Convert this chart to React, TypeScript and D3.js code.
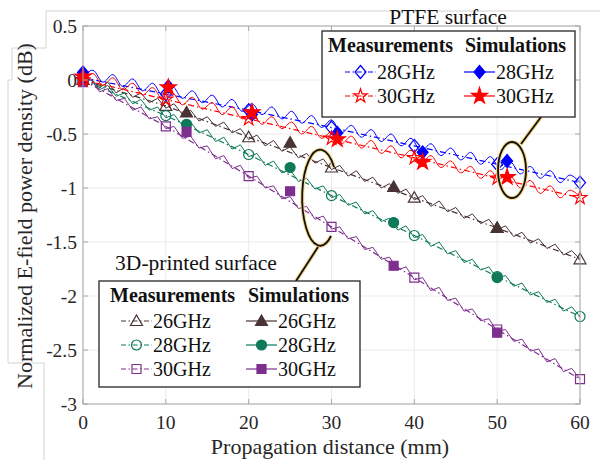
import React from 'react';
import * as d3 from 'd3';

// measurement points (open markers, dash-dot lines)
const distMm = [0, 10, 20, 30, 40, 50, 60];
const measPtfe28 = [0.02, -0.13, -0.28, -0.44, -0.61, -0.78, -0.95];
const measPtfe30 = [0.0, -0.18, -0.36, -0.54, -0.72, -0.91, -1.09];
const meas3d26 = [0, -0.24, -0.53, -0.81, -1.09, -1.37, -1.66];
const meas3d28 = [0, -0.33, -0.69, -1.07, -1.44, -1.82, -2.19];
const meas3d30 = [0, -0.43, -0.89, -1.36, -1.83, -2.31, -2.77];

// simulation markers (filled)
const simPtfeX = [0, 10.3, 20.4, 30.7, 41, 51.2];
const simPtfe28 = [0.07, -0.06, -0.32, -0.49, -0.67, -0.75];
const simPtfe30 = [0.03, -0.07, -0.3, -0.55, -0.76, -0.9];
const sim3dX = [0, 12.5, 25, 37.5, 50];
const sim3d26 = [0, -0.3, -0.58, -0.99, -1.37];
const sim3d28 = [0, -0.41, -0.81, -1.32, -1.83];
const sim3d30 = [-0.02, -0.48, -1.03, -1.72, -2.34];

// simulated rippled curves
const waveXPtfe = [0, 1.2, 2.4, 3.6, 4.8, 6, 7.2, 8.4, 9.6, 10.8, 12, 13.2, 14.4, 15.6, 16.8, 18, 19.2, 20.4, 21.6, 22.8, 24, 25.2, 26.4, 27.6, 28.8, 30, 31.2, 32.4, 33.6, 34.8, 36, 37.2, 38.4, 39.6, 40.8, 42, 43.2, 44.4, 45.6, 46.8, 48, 49.2, 50.4, 51.6, 52.8, 54, 55.2, 56.4, 57.6, 58.8, 60];
const wavePtfe28 = [0.04, 0.09, -0.02, 0.05, -0.06, 0.01, -0.1, -0.03, -0.14, -0.06, -0.17, -0.1, -0.21, -0.14, -0.25, -0.18, -0.29, -0.22, -0.32, -0.25, -0.36, -0.29, -0.4, -0.33, -0.44, -0.37, -0.49, -0.42, -0.53, -0.46, -0.57, -0.5, -0.61, -0.54, -0.66, -0.59, -0.7, -0.63, -0.74, -0.67, -0.78, -0.71, -0.83, -0.76, -0.87, -0.8, -0.91, -0.84, -0.95, -0.88, -0.95];
const wavePtfe30 = [0.01, 0.06, -0.05, 0.02, -0.09, -0.03, -0.14, -0.07, -0.18, -0.12, -0.23, -0.16, -0.27, -0.21, -0.32, -0.25, -0.36, -0.3, -0.41, -0.34, -0.45, -0.39, -0.5, -0.43, -0.54, -0.48, -0.59, -0.52, -0.63, -0.56, -0.68, -0.61, -0.72, -0.65, -0.77, -0.7, -0.81, -0.75, -0.86, -0.8, -0.91, -0.84, -0.96, -0.89, -1.0, -0.93, -1.05, -0.98, -1.09, -1.02, -1.08];
const waveX3d = [0, 1, 2, 3, 4, 5, 6, 7, 8, 9, 10, 11, 12, 13, 14, 15, 16, 17, 18, 19, 20, 21, 22, 23, 24, 25, 26, 27, 28, 29, 30, 31, 32, 33, 34, 35, 36, 37, 38, 39, 40, 41, 42, 43, 44, 45, 46, 47, 48, 49, 50, 51, 52, 53, 54, 55, 56, 57, 58, 59, 60];
const wave3d26 = [0, 0.01, -0.07, -0.02, -0.12, -0.07, -0.16, -0.12, -0.21, -0.17,
  -0.26, -0.22, -0.32, -0.28, -0.38, -0.34, -0.43, -0.39, -0.49, -0.45,
  -0.55, -0.51, -0.61, -0.56, -0.66, -0.62, -0.72, -0.68, -0.77, -0.73,
  -0.83, -0.79, -0.89, -0.84, -0.94, -0.9, -1.0, -0.96, -1.05, -1.01,
  -1.11, -1.07, -1.17, -1.12, -1.22, -1.18, -1.28, -1.24, -1.33, -1.29,
  -1.39, -1.35, -1.45, -1.41, -1.51, -1.47, -1.56, -1.52, -1.62, -1.58, -1.66];
const wave3d28 = [0, 0.0, -0.09, -0.05, -0.15, -0.12, -0.22, -0.18, -0.28, -0.25,
  -0.35, -0.32, -0.42, -0.39, -0.49, -0.46, -0.57, -0.53, -0.64, -0.6,
  -0.71, -0.68, -0.79, -0.75, -0.86, -0.83, -0.94, -0.91, -1.01, -0.98,
  -1.09, -1.06, -1.16, -1.13, -1.24, -1.21, -1.31, -1.28, -1.39, -1.35,
  -1.46, -1.43, -1.54, -1.5, -1.61, -1.58, -1.69, -1.66, -1.76, -1.73,
  -1.84, -1.81, -1.91, -1.88, -1.99, -1.96, -2.06, -2.03, -2.14, -2.1, -2.19];
const wave3d30 = [0, 0.0, -0.11, -0.08, -0.19, -0.17, -0.28, -0.25, -0.36, -0.34,
  -0.45, -0.43, -0.54, -0.52, -0.63, -0.61, -0.73, -0.7, -0.82, -0.79,
  -0.91, -0.89, -1.0, -0.98, -1.1, -1.08, -1.19, -1.17, -1.29, -1.26,
  -1.38, -1.36, -1.47, -1.45, -1.57, -1.55, -1.66, -1.64, -1.76, -1.73,
  -1.85, -1.83, -1.95, -1.92, -2.04, -2.02, -2.14, -2.12, -2.23, -2.21,
  -2.33, -2.31, -2.42, -2.4, -2.51, -2.49, -2.61, -2.58, -2.7, -2.67, -2.77];

const xTicks = [0, 10, 20, 30, 40, 50, 60];
const yTicks = [0.5, 0, -0.5, -1, -1.5, -2, -2.5, -3];
const freqPtfe = ['28GHz', '30GHz'];
const freq3d = ['26GHz', '28GHz', '30GHz'];

const FONT = '"Liberation Serif", "Times New Roman", serif';
const BLUE = '#0000ff';
const RED = '#ff0000';
const BROWN = '#4a3334';
const GREEN = '#0e7a5a';
const PURPLE = '#7e2f8e';

const x = d3.scaleLinear().domain([0, 60]).range([83, 580]);
const y = d3.scaleLinear().domain([-3, 0.5]).range([404, 26]);

const starOpen = d3.symbol(d3.symbolStar, 58)();
const starFilled = d3.symbol(d3.symbolStar, 80)();

// marker drawing
const Marker = ({ kind, cx, cy, color, filled }) => {
  const fill = filled ? color : 'none';
  const common = { fill, stroke: color, strokeWidth: 1.2, transform: `translate(${cx},${cy})` };
  if (kind === 'circle') return <circle cx={cx} cy={cy} r={5} fill={fill} stroke={color} strokeWidth={1.2} />;
  if (kind === 'square') return <path d="M-4.5,-4.5h9v9h-9Z" {...common} />;
  if (kind === 'triangle') return <path d="M0,-6L6,4.5L-6,4.5Z" {...common} />;
  if (kind === 'diamond') return <path d="M0,-6.5L5.5,0L0,6.5L-5.5,0Z" {...common} />;
  return <path d={filled ? starFilled : starOpen} {...common} />;
};

const series = [
  { color: BROWN, marker: 'triangle', waveX: waveX3d, wave: wave3d26, meas: meas3d26, simX: sim3dX, sim: sim3d26, smooth: false },
  { color: GREEN, marker: 'circle', waveX: waveX3d, wave: wave3d28, meas: meas3d28, simX: sim3dX, sim: sim3d28, smooth: false },
  { color: PURPLE, marker: 'square', waveX: waveX3d, wave: wave3d30, meas: meas3d30, simX: sim3dX, sim: sim3d30, smooth: false },
  { color: BLUE, marker: 'diamond', waveX: waveXPtfe, wave: wavePtfe28, meas: measPtfe28, simX: simPtfeX, sim: simPtfe28, smooth: true },
  { color: RED, marker: 'star', waveX: waveXPtfe, wave: wavePtfe30, meas: measPtfe30, simX: simPtfeX, sim: simPtfe30, smooth: true },
];

const LegendRow = ({ lx, ly, color, marker, dashed, label }) => (
  <g>
    <line x1={lx} x2={lx + 31} y1={ly} y2={ly} stroke={color} strokeWidth={1.2}
      strokeDasharray={dashed ? '5,2.5,1.5,2.5' : undefined} />
    <Marker kind={marker} cx={lx + 15.5} cy={ly} color={color} filled={!dashed} />
    <text x={lx + 32} y={ly + 7} fontSize={20} fill="#111">{label}</text>
  </g>
);

export default function App() {
  const lineWave = (smooth) => d3.line().x(d => x(d[0])).y(d => y(d[1]))
    .curve(smooth ? d3.curveCatmullRom.alpha(0.5) : d3.curveLinear);
  const lineMeas = d3.line().x(d => x(d[0])).y(d => y(d[1]));

  return (
    <svg width={600} height={460} style={{ position: 'absolute', left: 0, top: 0, background: '#fff' }}
      fontFamily={FONT}>
      {/* faint frame left over from the figure export */}
      <path d="M600,11H46V48H12V80H8V363H44V460" fill="none" stroke="#d4d4d4" strokeWidth={1} />

      {/* grid */}
      {xTicks.map(t => (
        <line key={'gx' + t} x1={x(t)} x2={x(t)} y1={y(0.5)} y2={y(-3)} stroke="#ebebeb" />
      ))}
      {yTicks.map(t => (
        <line key={'gy' + t} x1={x(0)} x2={x(60)} y1={y(t)} y2={y(t)} stroke="#ebebeb" />
      ))}

      {/* data */}
      {series.map((s, i) => (
        <g key={'s' + i}>
          <path d={lineWave(s.smooth)(s.waveX.map((v, j) => [v, s.wave[j]]))} fill="none"
            stroke={s.color} strokeWidth={1} />
          <path d={lineMeas(distMm.map((v, j) => [v, s.meas[j]]))} fill="none" stroke={s.color}
            strokeWidth={1.2} strokeDasharray="6,3,1.5,3" />
          {distMm.map((v, j) => (
            <Marker key={'m' + j} kind={s.marker} cx={x(v)} cy={y(s.meas[j])} color={s.color} filled={false} />
          ))}
          {s.simX.map((v, j) => (
            <Marker key={'f' + j} kind={s.marker} cx={x(v)} cy={y(s.sim[j])} color={s.color} filled />
          ))}
        </g>
      ))}

      {/* axes box and ticks */}
      <rect x={x(0)} y={y(0.5)} width={x(60) - x(0)} height={y(-3) - y(0.5)} fill="none" stroke="#a8a8a8" />
      {xTicks.map(t => (
        <g key={'tx' + t}>
          <line x1={x(t)} x2={x(t)} y1={y(-3)} y2={y(-3) - 5} stroke="#a8a8a8" />
          <line x1={x(t)} x2={x(t)} y1={y(0.5)} y2={y(0.5) + 5} stroke="#a8a8a8" />
          <text x={x(t)} y={429} textAnchor="middle" fontSize={19.5} fill="#262626">{t}</text>
        </g>
      ))}
      {yTicks.map(t => (
        <g key={'ty' + t}>
          <line x1={x(0)} x2={x(0) + 5} y1={y(t)} y2={y(t)} stroke="#a8a8a8" />
          <line x1={x(60)} x2={x(60) - 5} y1={y(t)} y2={y(t)} stroke="#a8a8a8" />
          <text x={77} y={y(t)} textAnchor="end" dominantBaseline="central" fontSize={19.5} fill="#262626">{String(t)}</text>
        </g>
      ))}
      <text x={330} y={454} textAnchor="middle" fontSize={22} fill="#262626">Propagation distance (mm)</text>
      <text transform={`translate(32,216) rotate(-90)`} textAnchor="middle" fontSize={22} fill="#262626">
        Normalized E-field power density (dB)
      </text>

      {/* PTFE annotation */}
      <text x={448} y={24} textAnchor="middle" fontSize={21.5} fill="#111">PTFE surface</text>
      <line x1={521} y1={144} x2={541} y2={117} stroke="#f5d990" strokeWidth={4} />
      <line x1={521} y1={144} x2={541} y2={117} stroke="#111" strokeWidth={1.8} />
      <ellipse cx={512} cy={170} rx={14} ry={28} fill="none" stroke="#f5d990" strokeWidth={4} />
      <ellipse cx={512} cy={170} rx={14} ry={28} fill="none" stroke="#111" strokeWidth={1.8} />
      <rect x={322} y={31} width={253} height={86} fill="#fff" stroke="#262626" strokeWidth={1.3} />
      <text x={328} y={52} fontSize={20} fontWeight="bold" fill="#111">Measurements</text>
      <text x={465} y={52} fontSize={20} fontWeight="bold" fill="#111">Simulations</text>
      {freqPtfe.map((f, i) => (
        <g key={'lp' + f}>
          <LegendRow lx={345} ly={72 + i * 24} color={i === 0 ? BLUE : RED} marker={i === 0 ? 'diamond' : 'star'} dashed label={f} />
          <LegendRow lx={464} ly={72 + i * 24} color={i === 0 ? BLUE : RED} marker={i === 0 ? 'diamond' : 'star'} dashed={false} label={f} />
        </g>
      ))}

      {/* 3D-printed annotation */}
      <path d="M334,167A18,48 0 1 0 331,236" fill="none" stroke="#f5d990" strokeWidth={4} />
      <path d="M334,167A18,48 0 1 0 331,236" fill="none" stroke="#111" strokeWidth={1.8} />
      <line x1={318} y1={247} x2={296} y2={281} stroke="#f5d990" strokeWidth={4} />
      <line x1={318} y1={247} x2={296} y2={281} stroke="#111" strokeWidth={1.8} />
      <text x={196} y={270} textAnchor="middle" fontSize={21.5} fill="#111">3D-printed surface</text>
      <rect x={99} y={281} width={261} height={106} fill="#fff" stroke="#262626" strokeWidth={1.3} />
      <text x={110} y={302} fontSize={20} fontWeight="bold" fill="#111">Measurements</text>
      <text x={248} y={302} fontSize={20} fontWeight="bold" fill="#111">Simulations</text>
      {freq3d.map((f, i) => {
        const c = [BROWN, GREEN, PURPLE][i];
        const m = ['triangle', 'circle', 'square'][i];
        return (
          <g key={'l3' + f}>
            <LegendRow lx={121} ly={321 + i * 24} color={c} marker={m} dashed label={f} />
            <LegendRow lx={246} ly={321 + i * 24} color={c} marker={m} dashed={false} label={f} />
          </g>
        );
      })}
    </svg>
  );
}
